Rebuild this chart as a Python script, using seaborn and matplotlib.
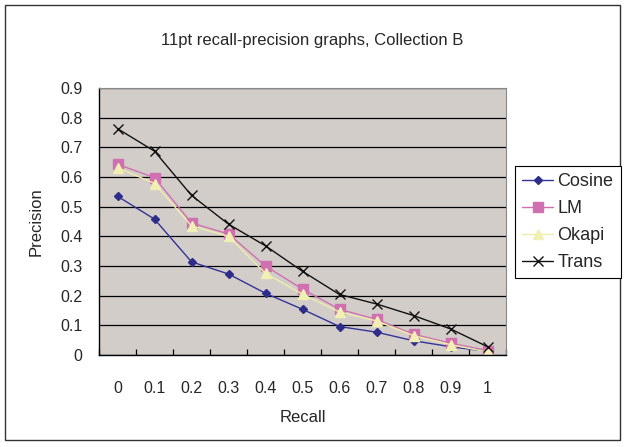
import numpy as np
import pandas as pd
import matplotlib
matplotlib.use("Agg")
import matplotlib.pyplot as plt
import seaborn as sns
from matplotlib.patches import Rectangle

recall = ["0", "0.1", "0.2", "0.3", "0.4", "0.5", "0.6", "0.7", "0.8", "0.9", "1"]
cosine = [0.535, 0.458, 0.314, 0.273, 0.208, 0.154, 0.096, 0.077, 0.048, 0.028, 0.012]
lm = [0.643, 0.598, 0.445, 0.408, 0.300, 0.222, 0.154, 0.120, 0.070, 0.040, 0.015]
okapi = [0.632, 0.578, 0.435, 0.400, 0.275, 0.205, 0.145, 0.115, 0.065, 0.035, 0.010]
trans = [0.763, 0.687, 0.538, 0.441, 0.368, 0.282, 0.204, 0.172, 0.133, 0.088, 0.028]

series = {"Cosine": cosine, "LM": lm, "Okapi": okapi, "Trans": trans}
line_colors = {"Cosine": "#333399", "LM": "#d070b0", "Okapi": "#eeeeaa", "Trans": "#111111"}
marker_face = {"Cosine": "#2e2e8a", "LM": "#d070b0", "Okapi": "#f0f0b4", "Trans": "#111111"}
markers = {"Cosine": "D", "LM": "s", "Okapi": "^", "Trans": "x"}
msizes = {"Cosine": 4.5, "LM": 7, "Okapi": 7, "Trans": 6.5}

df = pd.DataFrame({"Recall": recall * 4,
                   "Precision": cosine + lm + okapi + trans,
                   "Method": sum([[k] * len(recall) for k in series], [])})

sns.set_style("white")
plt.rcParams["font.family"] = ["Liberation Sans", "DejaVu Sans"]

fig = plt.figure(figsize=(6.24, 4.47), dpi=100)
ax = fig.add_axes([99 / 624, 1 - 355 / 447, 407 / 624, 267 / 447])
ax.set_facecolor("#d3cdca")

for name in series:
    sub = df[df["Method"] == name]
    sns.lineplot(data=sub, x="Recall", y="Precision", ax=ax, color=line_colors[name],
                 marker=markers[name], markersize=msizes[name],
                 markerfacecolor=marker_face[name], markeredgecolor=marker_face[name],
                 markeredgewidth=1.0, linewidth=1.0, label=name, sort=False)

ax.set_ylim(0, 0.9)
ax.set_xlim(-0.5, len(recall) - 0.5)
ax.set_yticks(np.arange(0, 0.91, 0.1))
ax.set_yticklabels(["0"] + [f"{v:.1f}" for v in np.arange(0.1, 0.91, 0.1)])
ax.yaxis.grid(True, color="black", linewidth=0.9)
ax.set_axisbelow(True)
ax.set_xticks(np.arange(len(recall)))
ax.set_xticklabels(recall)
ax.set_xticks(np.arange(len(recall) + 1) - 0.5, minor=True)
ax.tick_params(axis="x", which="major", length=0, pad=19, labelsize=11.5)
ax.tick_params(axis="x", which="minor", length=4, direction="in", color="black", width=0.9)
ax.tick_params(axis="y", which="major", length=0, pad=12, labelsize=11.5)
ax.tick_params(axis="x", which="minor", bottom=True)

for side in ["top", "right"]:
    ax.spines[side].set_color("#888888")
    ax.spines[side].set_linewidth(0.8)
for side in ["left", "bottom"]:
    ax.spines[side].set_color("black")
    ax.spines[side].set_linewidth(1.0)

ax.set_xlabel("Recall", fontsize=12, labelpad=10)
ax.set_ylabel("Precision", fontsize=12, labelpad=12)

handles, labels = ax.get_legend_handles_labels()
ax.get_legend().remove()
leg = fig.legend(handles, labels, loc="upper left", bbox_to_anchor=(515 / 624, 1 - 166 / 447),
                 fontsize=13, frameon=True, fancybox=False, framealpha=1,
                 edgecolor="black", borderpad=0.4, handlelength=1.7, handletextpad=0.25,
                 labelspacing=0.55, borderaxespad=0)
leg.get_frame().set_linewidth(0.8)

fig.text(0.5 * (5 + 620) / 624, 1 - 40 / 447, "11pt recall-precision graphs, Collection B",
         ha="center", va="center", fontsize=12)

fig.patches.append(Rectangle((5 / 624, 1 - 440 / 447), 615 / 624, 435 / 447,
                             transform=fig.transFigure, fill=False, edgecolor="#333333",
                             linewidth=1.0))

fig.savefig("out.png", dpi=100)
